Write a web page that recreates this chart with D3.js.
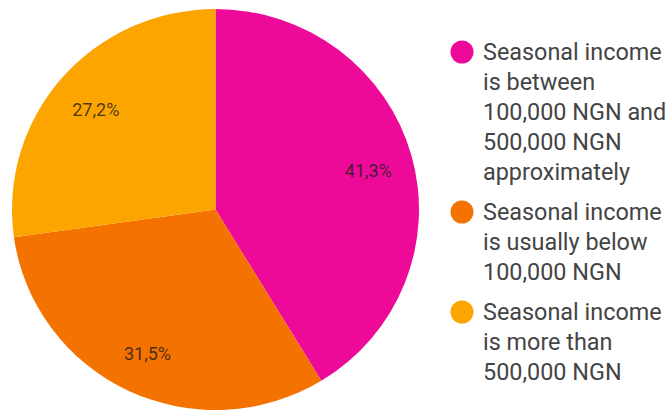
<!DOCTYPE html>
<html><head><meta charset="utf-8">
<script src="https://cdn.jsdelivr.net/npm/d3@7"></script>
<style>html,body{margin:0;padding:0;background:#fff;}svg{display:block;}</style>
</head><body>
<svg id="chart" width="671" height="414"></svg>
<script>
const categories = [
  "Seasonal income is between 100,000 NGN and 500,000 NGN approximately",
  "Seasonal income is usually below 100,000 NGN",
  "Seasonal income is more than 500,000 NGN"
];
const values = [41.3, 31.5, 27.2];
const labels = ["41,3%", "31,5%", "27,2%"];
const legendLines = [
  ["Seasonal income", "is between", "100,000 NGN and", "500,000 NGN", "approximately"],
  ["Seasonal income", "is usually below", "100,000 NGN"],
  ["Seasonal income", "is more than", "500,000 NGN"]
];
const colors = ["#ee0a98", "#f47300", "#fca500"];

const svg = d3.select("#chart");
const cx = 215.5, cy = 209.5, R = 203.5, yScale = 200.5 / 203.5;
const color = d3.scaleOrdinal().domain(categories).range(colors);
const pie = d3.pie().sort(null).value(d => d.v);
const data = pie(categories.map((c, i) => ({c, v: values[i], l: labels[i]})));
const arc = d3.arc().innerRadius(0).outerRadius(R);
const labelArc = d3.arc().innerRadius(R * 0.78).outerRadius(R * 0.78);

const g = svg.append("g").attr("transform", `translate(${cx},${cy}) scale(1,${yScale})`);
g.selectAll("path").data(data).join("path")
  .attr("d", arc).attr("fill", d => color(d.data.c));

svg.append("g").selectAll("text").data(data).join("text")
  .attr("x", d => cx + labelArc.centroid(d)[0])
  .attr("y", d => cy + labelArc.centroid(d)[1] * yScale)
  .attr("dy", "0.17em")
  .attr("text-anchor", "middle").attr("dominant-baseline", "central")
  .attr("font-family", "Roboto, sans-serif").attr("font-size", 18)
  .attr("fill", "#1a1a1a").attr("fill-opacity", 0.8)
  .text(d => d.data.l);

const leg = svg.append("g");
let y = 52;
legendLines.forEach((lines, i) => {
  leg.append("circle").attr("cx", 462).attr("cy", y).attr("r", 11.5).attr("fill", colors[i]);
  lines.forEach((t, j) => {
    leg.append("text").attr("x", 483).attr("y", y + j * 30)
      .attr("dominant-baseline", "central")
      .attr("font-family", "Roboto, sans-serif").attr("font-size", 23.4)
      .attr("fill", "#444").text(t);
  });
  y += (lines.length - 1) * 30 + 40;
});
</script>
</body></html>
